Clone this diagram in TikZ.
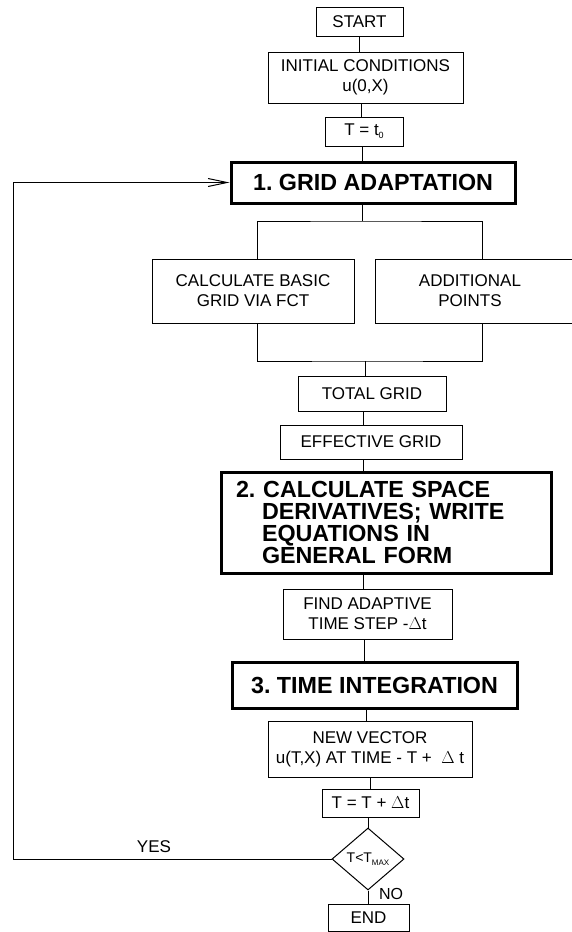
\documentclass[tikz,border=0pt]{standalone}
\usepackage{fontspec}
\setmainfont{Liberation Sans}
\usetikzlibrary{arrows.meta,shapes.geometric}
\frenchspacing
\begin{document}
\begin{tikzpicture}[x=1pt,y=-1pt,
  box/.style={draw, line width=1pt, rectangle, inner sep=0pt, align=center, font=\fontsize{17}{20}\selectfont},
  bigbox/.style={draw, line width=3pt, rectangle, inner sep=0pt, align=center, font=\fontsize{23.3}{22}\selectfont\bfseries},
  link/.style={line width=1pt},
  lbl/.style={inner sep=0pt, font=\fontsize{17}{20}\selectfont}]
\useasboundingbox (0,0) rectangle (571,932);
% nodes
\node[box, minimum width=87pt, minimum height=29pt] (start) at (359.5,21.5) {START};
\node[box, minimum width=195pt, minimum height=51pt] (init) at (365.5,77.5) {INITIAL CONDITIONS\\u(0,X)};
\node[box, minimum width=78pt, minimum height=29pt] (t0) at (364,131.5) {T = t{\fontsize{9}{9}\selectfont\raisebox{-3pt}{0}}};
\node[bigbox, minimum width=284pt, minimum height=41pt] (grid) at (373,182.5) {1. GRID ADAPTATION};
\node[box, minimum width=202pt, minimum height=64pt] (basic) at (253,291) {CALCULATE BASIC\\GRID VIA FCT};
\node[box, minimum width=210pt, minimum height=64pt] (add) at (480,291) {};
\node[lbl, align=center] (addtxt) at (470,291) {ADDITIONAL\\POINTS};
\node[box, minimum width=148pt, minimum height=35pt] (total) at (372,393.5) {TOTAL GRID};
\node[box, minimum width=182pt, minimum height=34pt] (eff) at (371,442) {EFFECTIVE GRID};
\node[bigbox, align=left, text width=300pt, inner xsep=15pt, minimum height=101pt] (calc) at (386,522.5)
  {2. CALCULATE SPACE\\\hspace*{26pt}DERIVATIVES; WRITE\\\hspace*{26pt}EQUATIONS IN\\\hspace*{26pt}GENERAL FORM};
\node[box, minimum width=169pt, minimum height=50pt] (find) at (367.5,614) {FIND ADAPTIVE\\TIME STEP -$\Delta$t};
\node[bigbox, minimum width=285pt, minimum height=46pt] (integ) at (374.5,685) {3. TIME INTEGRATION};
\node[box, minimum width=204pt, minimum height=56pt] (newv) at (370,749) {NEW VECTOR\\u(T,X) AT TIME - T + \ $\Delta$ t};
\node[box, minimum width=97pt, minimum height=28pt] (tt) at (370.5,803) {T = T + $\Delta$t};
\node[draw, line width=1pt, diamond, inner sep=0pt, minimum width=72pt, minimum height=62pt] (dec) at (368,859)
  {\fontsize{14}{14}\selectfont T<T{\fontsize{8}{8}\selectfont\raisebox{-3pt}{MAX}}};
\node[box, minimum width=81pt, minimum height=27pt] (end) at (368.5,917.5) {END};
\node[lbl] (yes) at (154,847) {YES};
\node[lbl, font=\fontsize{16}{16}\selectfont] (no) at (391,894) {NO};
% column coordinates
\coordinate (sp) at (362,221);
\coordinate (mg) at (365,361);
\coordinate (bl) at (257,0);
\coordinate (ar) at (482.5,0);
\coordinate (lx) at (13,0);
% connectors
\draw[link] (start.south) -- (start.south |- init.north);
\draw[link] (t0.north -| 361,0) -- (init.south -| 361,0);
\draw[link] (t0.south -| sp) -- (grid.north -| sp);
\draw[link] (grid.south -| sp) -- (sp);
\draw[link] (bl |- basic.north) |- (sp) -| (ar |- add.north);
\draw[link] (bl |- basic.south) |- (mg) -| (ar |- add.south);
\draw[link] (mg) -- (mg |- total.north);
\draw[link] (total.south -| 363,0) -- (eff.north -| 363,0);
\draw[link] (eff.south -| 363,0) -- (calc.north -| 363,0);
\draw[link] (calc.south -| 363,0) -- (find.north -| 363,0);
\draw[link] (find.south -| 364,0) -- (integ.north -| 364,0);
\draw[link] (integ.south -| 366,0) -- (newv.north -| 366,0);
\draw[link] (newv.south -| 370,0) -- (tt.north -| 370,0);
\draw[link] (tt.south -| dec.north) -- (dec.north);
\draw[link] (dec.south) -- (end.north -| dec.south);
\draw[link, -{Straight Barb[length=19pt,width=8pt]}] (dec.west) -| (lx |- grid.west) -- (grid.west);
\end{tikzpicture}
\end{document}
